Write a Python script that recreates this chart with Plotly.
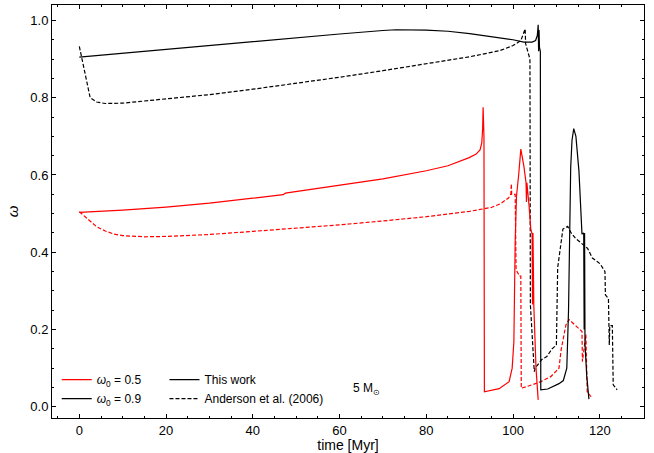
import plotly.graph_objects as go

# ---- data ----
# omega0 = 0.9, this work (black solid)
t_b_solid = [0, 10, 20, 30, 40, 50, 60, 70, 73, 80, 85, 90, 95, 100, 102.5, 104.4, 105.2, 105.6, 105.8,
             105.9, 106.0, 106.1, 106.3, 106.4, 108, 110.6, 111.6, 112.4, 112.8, 113.0, 113.3, 113.6, 114.0,
             114.5, 115.2, 115.9, 116.3, 116.4, 116.5, 116.6, 117.0, 117.5]
w_b_solid = [0.905, 0.915, 0.926, 0.936, 0.945, 0.955, 0.965, 0.974, 0.976, 0.975, 0.972, 0.966, 0.958, 0.950,
             0.944, 0.944, 0.948, 0.961, 0.989, 0.92, 0.975, 0.93, 0.92, 0.044, 0.046, 0.060, 0.068, 0.10,
             0.25, 0.45, 0.62, 0.69, 0.72, 0.70, 0.61, 0.447, 0.45, 0.20, 0.45, 0.16, 0.08, 0.02]

# omega0 = 0.9, Anderson et al. (2006) (black dashed)
t_b_dash = [0, 1, 2, 2.5, 4, 6, 10, 20, 30, 40, 50, 60, 70, 80, 90, 97, 100, 101.8, 102.8, 102.9, 103.5,
            103.9, 104.0, 104.9, 105.1, 106.6, 107.8, 109, 110.0, 110.3, 111.5, 112.6, 113.4, 114.4, 117.2,
            118.3, 119.4, 120.1, 121.2, 121.3, 122.0, 122.2, 122.3, 122.9, 123.1, 124.0]
w_b_dash = [0.933, 0.88, 0.82, 0.80, 0.789, 0.785, 0.786, 0.797, 0.808, 0.822, 0.837, 0.853, 0.870, 0.888,
            0.906, 0.922, 0.935, 0.948, 0.978, 0.94, 0.915, 0.90, 0.265, 0.091, 0.10, 0.122, 0.13, 0.15,
            0.16, 0.36, 0.46, 0.467, 0.45, 0.436, 0.41, 0.385, 0.376, 0.37, 0.35, 0.29, 0.28, 0.16, 0.21,
            0.21, 0.057, 0.044]

# omega0 = 0.5, this work (red solid)
t_r_solid = [0, 10, 20, 30, 40, 47, 47.5, 50, 60, 70, 80, 85, 89.9, 91.5, 92.4, 92.8, 93.0, 93.1, 93.2,
             93.3, 93.4, 96.8, 99.1, 99.8, 100.2, 100.5, 100.8, 101.3, 101.8, 102.5, 103.0, 103.1, 103.2,
             103.7, 104.1, 104.4, 104.5, 104.6, 104.8, 105.3, 105.8]
w_r_solid = [0.503, 0.509, 0.517, 0.527, 0.540, 0.549, 0.553, 0.557, 0.573, 0.590, 0.611, 0.624, 0.645,
             0.654, 0.665, 0.684, 0.72, 0.775, 0.74, 0.70, 0.039, 0.047, 0.065, 0.10, 0.169, 0.43, 0.545,
             0.60, 0.667, 0.623, 0.58, 0.53, 0.58, 0.52, 0.46, 0.447, 0.265, 0.45, 0.26, 0.10, 0.018]

# omega0 = 0.5, Anderson et al. (2006) (red dashed)
t_r_dash = [0, 1, 2, 3, 4, 6, 8, 10, 15, 20, 30, 40, 50, 60, 70, 80, 90, 95, 97, 99, 99.5, 99.6, 99.7,
            100.5, 100.7, 101.5, 101.8, 101.9, 104.4, 106.4, 108.7, 110.6, 111.1, 112.2, 112.9, 114.1,
            115.9, 116.0, 116.8, 117.1, 118.0]
w_r_dash = [0.505, 0.495, 0.484, 0.475, 0.466, 0.455, 0.447, 0.443, 0.440, 0.441, 0.446, 0.454, 0.462,
            0.471, 0.481, 0.492, 0.506, 0.516, 0.525, 0.541, 0.551, 0.577, 0.55, 0.55, 0.355, 0.338, 0.338,
            0.048, 0.057, 0.065, 0.078, 0.10, 0.148, 0.212, 0.226, 0.213, 0.195, 0.117, 0.187, 0.039, 0.026]

RED = "#ff0000"
BLK = "#000000"
LW = 1.2
DASH = "4px,2px"

fig = go.Figure()
fig.add_trace(go.Scatter(x=t_r_dash, y=w_r_dash, mode="lines", line=dict(color=RED, width=LW, dash=DASH), showlegend=False))
fig.add_trace(go.Scatter(x=t_b_dash, y=w_b_dash, mode="lines", line=dict(color=BLK, width=LW, dash=DASH), showlegend=False))
fig.add_trace(go.Scatter(x=t_r_solid, y=w_r_solid, mode="lines", line=dict(color=RED, width=LW), showlegend=False))
fig.add_trace(go.Scatter(x=t_b_solid, y=w_b_solid, mode="lines", line=dict(color=BLK, width=LW), showlegend=False))

# legend entries
fig.add_trace(go.Scatter(x=[None], y=[None], mode="lines", line=dict(color=RED, width=LW),
                         name="<i>ω</i><sub>0</sub> = 0.5", legend="legend"))
fig.add_trace(go.Scatter(x=[None], y=[None], mode="lines", line=dict(color=BLK, width=LW),
                         name="<i>ω</i><sub>0</sub> = 0.9", legend="legend"))
fig.add_trace(go.Scatter(x=[None], y=[None], mode="lines", line=dict(color=BLK, width=LW),
                         name="This work", legend="legend2"))
fig.add_trace(go.Scatter(x=[None], y=[None], mode="lines", line=dict(color=BLK, width=LW, dash=DASH),
                         name="Anderson et al. (2006)", legend="legend2"))

FONT = "Liberation Sans, Arial, sans-serif"
axis_common = dict(showline=True, linecolor="black", linewidth=1, mirror="ticks", ticks="inside",
                   ticklen=4, tickwidth=1, tickcolor="black", showgrid=False, zeroline=False,
                   automargin=False,
                   tickfont=dict(size=13, color="black", family=FONT))

fig.update_layout(
    width=654, height=453,
    margin=dict(l=52, r=10, t=5, b=35),
    plot_bgcolor="white", paper_bgcolor="white",
    font=dict(family=FONT, color="black"),
    xaxis=dict(range=[-6.3, 130.2], dtick=20, tick0=0,
               minor=dict(dtick=5, ticklen=2, ticks="inside", tickcolor="black", showgrid=False),
               title=dict(text="time [Myr]", font=dict(size=14, family=FONT), standoff=0),
               **axis_common),
    yaxis=dict(range=[-0.029, 1.04], dtick=0.2, tick0=0, tickformat=".1f",
               minor=dict(dtick=0.05, ticklen=2, ticks="inside", tickcolor="black", showgrid=False),
               title=dict(text="<i>ω</i>", font=dict(size=15, family=FONT), standoff=8),
               **axis_common),
    legend=dict(x=0.008, y=0.012, xanchor="left", yanchor="bottom", bgcolor="rgba(0,0,0,0)",
                font=dict(size=12, family=FONT), tracegroupgap=0, itemwidth=30),
    legend2=dict(x=0.19, y=0.012, xanchor="left", yanchor="bottom", bgcolor="rgba(0,0,0,0)",
                 font=dict(size=12, family=FONT), tracegroupgap=0, itemwidth=30),
    annotations=[dict(x=66.2, y=0.047, xref="x", yref="y", text="5 M<sub>⊙</sub>", showarrow=False,
                      font=dict(size=12, family=FONT, color="black"))],
)

fig.write_html("out.html", config={"displayModeBar": False},
               post_script="document.body.style.margin='0';")
